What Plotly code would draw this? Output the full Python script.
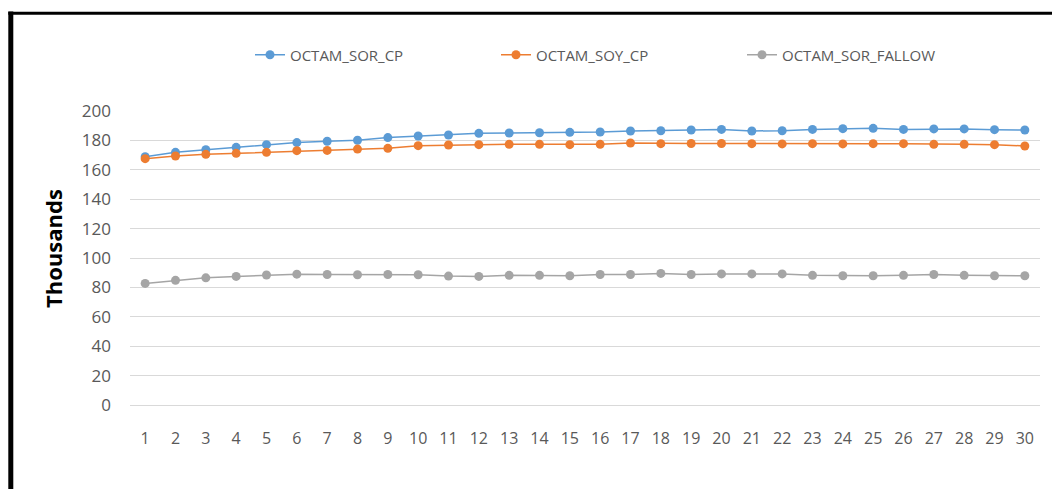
import plotly.graph_objects as go

categories = list(range(1, 31))
sor_cp = [168.9, 171.9, 173.7, 175.3, 177.1, 178.5, 179.4, 180.1, 181.9, 183.0,
          183.7, 184.8, 185.0, 185.2, 185.5, 185.7, 186.4, 186.6, 187.1, 187.5,
          186.4, 186.6, 187.5, 188.0, 188.2, 187.5, 187.8, 187.8, 187.3, 187.1]
soy_cp = [167.6, 169.4, 170.5, 171.2, 171.9, 173.0, 173.2, 174.1, 174.6, 176.4,
          176.9, 177.1, 177.3, 177.3, 177.1, 177.3, 178.2, 177.8, 177.9, 177.9,
          177.8, 177.6, 177.8, 177.6, 177.8, 177.8, 177.3, 177.3, 177.1, 176.2]
sor_fallow = [82.7, 84.8, 86.5, 87.5, 88.4, 89.0, 88.8, 88.6, 88.8, 88.6,
              87.7, 87.5, 88.2, 88.2, 87.9, 88.8, 88.8, 89.5, 88.8, 89.2,
              89.2, 89.2, 88.2, 87.9, 87.9, 88.2, 88.8, 88.2, 87.9, 87.9]
series_names = ["OCTAM_SOR_CP", "OCTAM_SOY_CP", "OCTAM_SOR_FALLOW"]
colors = ["#5B9BD5", "#ED7D31", "#A5A5A5"]
y_ticks = list(range(0, 201, 20))

# page body has an 8px margin: work in screenshot pixels and convert
OFF = 8
W, H = 1060, 489
# plot area in screenshot pixels: x 130..1040, y 111..405
L = 130 - OFF
T = 111 - OFF
R = W - (1040 - OFF)
B = H - (405 - OFF)
pw, ph = W - L - R, H - T - B

def px_x(x):
    return (x - OFF - L) / pw

def px_y(y):
    return (H - B - (y - OFF)) / ph

font_family = "Open Sans, Arial, sans-serif"

fig = go.Figure()
for name, vals, col in zip(series_names, [sor_cp, soy_cp, sor_fallow], colors):
    fig.add_trace(go.Scatter(
        x=categories, y=vals, name=name, mode="lines+markers",
        line=dict(color=col, width=1.5),
        marker=dict(color=col, size=9, symbol="circle"),
    ))

fig.update_layout(
    width=W, height=H,
    margin=dict(l=L, r=R, t=T, b=B, pad=0, autoexpand=False),
    paper_bgcolor="white", plot_bgcolor="white",
    font=dict(family=font_family, size=16, color="#595959"),
    showlegend=True,
    legend=dict(
        orientation="h", x=px_x(250), xanchor="left",
        y=px_y(55), yanchor="middle",
        font=dict(size=15, color="#595959"),
        entrywidth=201, entrywidthmode="pixels",
        itemwidth=30,
        bgcolor="rgba(0,0,0,0)",
    ),
    xaxis=dict(
        range=[0.5, 30.5], tickmode="array", tickvals=categories,
        ticktext=[str(c) for c in categories],
        showgrid=False, zeroline=False, showline=False, ticks="",
        ticklabelstandoff=22, automargin=False,
        tickfont=dict(size=16, color="#595959"),
    ),
    yaxis=dict(
        range=[0, 200], tickmode="array", tickvals=y_ticks,
        showgrid=True, gridcolor="#D9D9D9", gridwidth=1.3,
        zeroline=True, zerolinecolor="#D9D9D9", zerolinewidth=1.3,
        showline=False, ticks="",
        ticklabelstandoff=18, automargin=False,
        tickfont=dict(size=17, color="#595959"),
    ),
    annotations=[
        dict(text="<b>Thousands</b>", xref="paper", yref="paper",
             x=px_x(53), y=px_y(249), xanchor="center", yanchor="middle",
             textangle=-90, showarrow=False,
             font=dict(size=22, color="black")),
    ],
    shapes=[
        dict(type="line", xref="paper", yref="paper",
             x0=px_x(10.8), x1=px_x(10.8), y0=px_y(560), y1=px_y(11.5),
             line=dict(color="black", width=5)),
        dict(type="line", xref="paper", yref="paper",
             x0=px_x(8.3), x1=px_x(1100), y0=px_y(13.3), y1=px_y(13.3),
             line=dict(color="black", width=3)),
    ],
)

fig.write_html("out.html")
